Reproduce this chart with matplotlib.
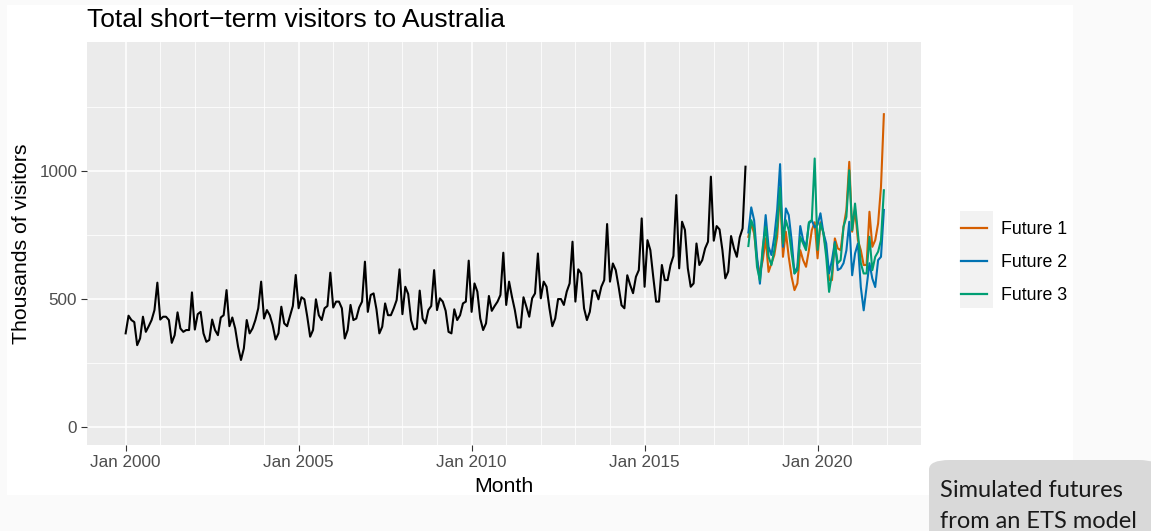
import numpy as np
import matplotlib.pyplot as plt
from matplotlib.patches import Rectangle, FancyBboxPatch

# monthly totals (thousands), Jan 2000 .. Dec 2017
visitors = [
    366, 435, 418, 410, 320, 346, 431, 372, 394, 418, 457, 564,
    420, 431, 431, 418, 329, 359, 448, 385, 372, 379, 379, 526,
    381, 441, 450, 366, 333, 340, 420, 379, 359, 428, 437, 535,
    394, 428, 385, 314, 262, 307, 418, 366, 385, 418, 464, 568,
    424, 457, 437, 398, 342, 366, 470, 405, 394, 433, 473, 594,
    464, 507, 499, 431, 353, 379, 499, 437, 418, 464, 473, 603,
    467, 490, 490, 464, 346, 379, 477, 418, 424, 467, 490, 646,
    450, 516, 522, 460, 366, 392, 483, 437, 437, 464, 496, 616,
    441, 548, 520, 418, 381, 385, 533, 424, 405, 457, 473, 613,
    457, 503, 490, 454, 372, 366, 460, 418, 437, 483, 490, 650,
    450, 561, 529, 424, 379, 405, 512, 454, 473, 490, 516, 681,
    477, 568, 509, 457, 389, 389, 507, 470, 431, 503, 522, 678,
    503, 568, 548, 464, 394, 424, 500, 500, 477, 529, 561, 724,
    490, 616, 600, 464, 418, 450, 533, 533, 499, 548, 574, 793,
    568, 639, 613, 548, 476, 464, 593, 555, 523, 587, 613, 815,
    548, 730, 691, 587, 490, 490, 633, 574, 574, 633, 668, 906,
    620, 802, 770, 620, 548, 561, 717, 633, 652, 698, 724, 978,
    728, 785, 772, 691, 581, 607, 746, 698, 665, 741, 776, 1017,
]

# simulated futures, Jan 2018 .. Dec 2021
future1 = [
    743, 795, 756, 652, 600, 652, 737, 606, 639, 672, 743, 926,
    665, 763, 665, 587, 535, 561, 691, 652, 626, 691, 769, 800,
    659, 800, 760, 690, 574, 574, 737, 698, 691, 782, 848, 1036,
    763, 850, 730, 691, 633, 633, 841, 704, 730, 795, 938, 1222,
]
future2 = [
    760, 858, 808, 665, 560, 690, 828, 704, 672, 743, 850, 1027,
    704, 854, 828, 730, 600, 626, 785, 730, 704, 795, 808, 780,
    790, 835, 760, 717, 600, 652, 723, 613, 620, 640, 690, 802,
    593, 678, 717, 547, 456, 547, 640, 580, 547, 652, 665, 848,
]
future3 = [
    707, 808, 776, 625, 573, 704, 782, 665, 633, 691, 782, 935,
    717, 808, 769, 678, 600, 613, 743, 717, 691, 800, 808, 1049,
    692, 795, 760, 665, 528, 600, 717, 640, 652, 782, 821, 1003,
    769, 873, 756, 640, 600, 600, 743, 613, 665, 685, 730, 925,
]
future_names = ["Future 1", "Future 2", "Future 3"]
future_colors = ["#D55E00", "#0072B2", "#009E73"]

start_year = 2000
t_hist = start_year + np.arange(len(visitors)) / 12
t_fut = start_year + (len(visitors) + np.arange(len(future1))) / 12

W, H = 1151, 531
fig = plt.figure(figsize=(W / 100, H / 100), dpi=100, facecolor="#fafafa")
plt.rcParams["font.family"] = ["Liberation Sans", "DejaVu Sans"]

# white ggplot canvas
fig.patches.append(Rectangle((7 / W, 1 - 495 / H), (1073 - 7) / W, (495 - 5) / H,
                             transform=fig.transFigure, facecolor="white",
                             edgecolor="none", zorder=-1))

ax = fig.add_axes([87 / W, 1 - 445 / H, (921 - 87) / W, (445 - 42) / H])
ax.set_zorder(2)
ax.set_facecolor("#ebebeb")
for s in ax.spines.values():
    s.set_visible(False)

# grid
for yr in range(2000, 2023):
    ax.axvline(yr, color="white", lw=1.1 if yr % 5 == 0 else 0.55, zorder=1)
for v in [0, 500, 1000]:
    ax.axhline(v, color="white", lw=1.1, zorder=1)
for v in [250, 750, 1250]:
    ax.axhline(v, color="white", lw=0.55, zorder=1)

ax.plot(t_hist, visitors, color="black", lw=1.5, zorder=3)
for vals, name, c in zip([future1, future2, future3], future_names, future_colors):
    ax.plot(t_fut, vals, color=c, lw=1.5, label=name, zorder=3)

ax.set_xlim(1998.883, 2022.99)
ax.set_ylim(-70, 1504)
ax.set_xticks([2000, 2005, 2010, 2015, 2020])
ax.set_xticklabels([f"Jan {y}" for y in [2000, 2005, 2010, 2015, 2020]])
ax.set_yticks([0, 500, 1000])
ax.set_yticklabels(["0", "500", "1000"])
ax.tick_params(colors="#333333", labelcolor="#4d4d4d", labelsize=12.3,
               length=4, width=0.8, pad=3)

ax.set_xlabel("Month", fontsize=15.3, labelpad=5)
ax.set_ylabel("Thousands of visitors", fontsize=15.3, labelpad=6)
ax.set_title("Total short\u2212term visitors to Australia", fontsize=19,
             loc="left", pad=11)

# legend with grey key background
fig.patches.append(Rectangle((960 / W, 1 - 308 / H), 33 / W, 97 / H,
                             transform=fig.transFigure, facecolor="#f2f2f2",
                             edgecolor="none", zorder=1))
leg = ax.legend(loc="upper left", bbox_to_anchor=(961 / W, 1 - 221 / H),
                bbox_transform=fig.transFigure, frameon=False, fontsize=12.8,
                handlelength=1.45, handletextpad=0.78, labelspacing=0.9,
                borderpad=0.0, borderaxespad=0)
for line in leg.get_lines():
    line.set_linewidth(1.6)

# callout box
fig.patches.append(FancyBboxPatch((929 / W, -0.05), 0.2, (531 - 460) / H + 0.05,
                                  boxstyle="round,pad=0,rounding_size=0.018",
                                  transform=fig.transFigure, facecolor="#d9d9d9",
                                  edgecolor="none", zorder=5))
fig.text(940 / W, 1 - 497 / H, "Simulated futures", family="Lato", fontsize=17,
         color="#1a1a1a", va="baseline", zorder=6)
fig.text(940 / W, 1 - 528 / H, "from an ETS model", family="Lato", fontsize=17,
         color="#1a1a1a", va="baseline", zorder=6)

fig.savefig("out.png", dpi=100, facecolor=fig.get_facecolor())
